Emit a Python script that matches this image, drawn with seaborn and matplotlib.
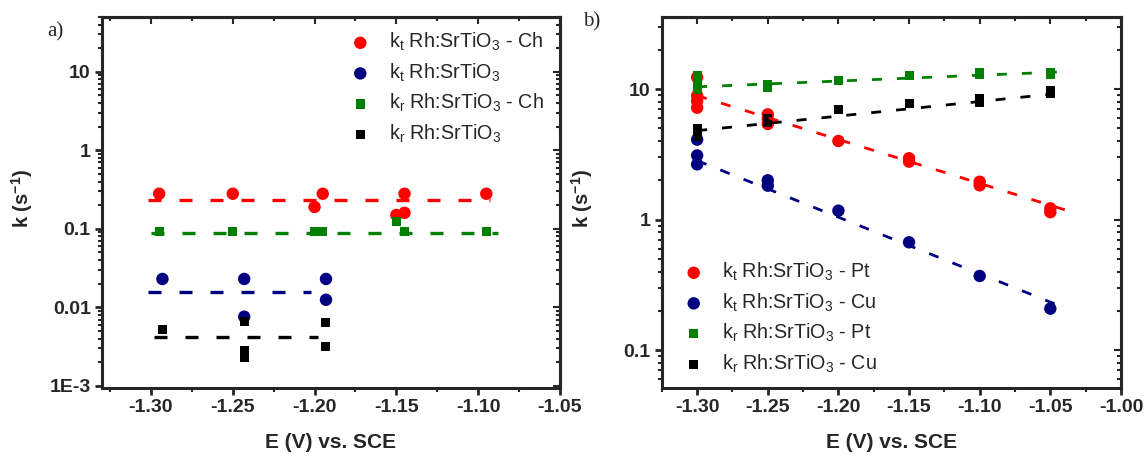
import numpy as np
import pandas as pd
import matplotlib
matplotlib.use("Agg")
import matplotlib.pyplot as plt
import seaborn as sns
from matplotlib.ticker import MultipleLocator, FixedLocator, FixedFormatter, NullFormatter, LogLocator

# ---- panel a) data ----
a_kt_ch_E = [-1.295, -1.25, -1.195, -1.20, -1.15, -1.145, -1.145, -1.095]
a_kt_ch_k = [0.28, 0.28, 0.28, 0.19, 0.15, 0.16, 0.28, 0.28]
a_kt_E = [-1.293, -1.243, -1.243, -1.193, -1.193]
a_kt_k = [0.023, 0.023, 0.0076, 0.023, 0.0125]
a_kr_ch_E = [-1.295, -1.25, -1.20, -1.195, -1.15, -1.145, -1.095]
a_kr_ch_k = [0.092, 0.092, 0.092, 0.092, 0.125, 0.092, 0.092]
a_kr_E = [-1.293, -1.243, -1.243, -1.243, -1.193, -1.193]
a_kr_k = [0.0052, 0.0066, 0.0028, 0.0023, 0.0064, 0.0032]

# fitted (horizontal) lines of panel a), same order as the series: start E, end E, level
a_fit_E0 = [-1.302, -1.302, -1.300, -1.298]
a_fit_E1 = [-1.093, -1.202, -1.088, -1.198]
a_fit_k = [0.23, 0.0155, 0.088, 0.0042]

# ---- panel b) data ----
b_kt_pt_E = [-1.30, -1.30, -1.30, -1.30, -1.25, -1.25, -1.25, -1.20, -1.15, -1.15, -1.10, -1.10, -1.05, -1.05]
b_kt_pt_k = [12.3, 8.9, 8.1, 7.2, 6.4, 5.9, 5.4, 4.0, 2.95, 2.78, 1.95, 1.83, 1.22, 1.14]
b_kt_cu_E = [-1.30, -1.30, -1.30, -1.25, -1.25, -1.20, -1.15, -1.10, -1.05]
b_kt_cu_k = [4.1, 3.1, 2.65, 2.0, 1.82, 1.17, 0.67, 0.37, 0.208]
b_kr_pt_E = [-1.30, -1.30, -1.30, -1.25, -1.25, -1.20, -1.15, -1.10, -1.10, -1.05, -1.05]
b_kr_pt_k = [12.6, 11.0, 10.0, 10.9, 10.3, 11.7, 12.6, 13.4, 13.0, 13.5, 12.9]
b_kr_cu_E = [-1.30, -1.30, -1.25, -1.25, -1.20, -1.15, -1.10, -1.10, -1.05, -1.05]
b_kr_cu_k = [5.0, 4.3, 5.9, 5.5, 7.0, 7.7, 8.4, 7.9, 9.7, 9.2]

# fitted lines of panel b): (E0, k0) -> (E1, k1)
b_fit_E0 = [-1.30, -1.30, -1.30, -1.30]
b_fit_k0 = [8.9, 2.83, 10.4, 4.8]
b_fit_E1 = [-1.032, -1.044, -1.038, -1.047]
b_fit_k1 = [1.12, 0.22, 13.6, 9.2]

colors = ["#FF0000", "#000080", "#008000", "#000000"]
markers = ["o", "o", "s", "s"]
sizes = [80, 80, 42, 42]

labels_a = [r"k$_\mathrm{t}$ Rh:SrTiO$_\mathrm{3}$ - Ch", r"k$_\mathrm{t}$ Rh:SrTiO$_\mathrm{3}$",
            r"k$_\mathrm{r}$ Rh:SrTiO$_\mathrm{3}$ - Ch", r"k$_\mathrm{r}$ Rh:SrTiO$_\mathrm{3}$"]
labels_b = [r"k$_\mathrm{t}$ Rh:SrTiO$_\mathrm{3}$ - Pt", r"k$_\mathrm{t}$ Rh:SrTiO$_\mathrm{3}$ - Cu",
            r"k$_\mathrm{r}$ Rh:SrTiO$_\mathrm{3}$ - Pt", r"k$_\mathrm{r}$ Rh:SrTiO$_\mathrm{3}$ - Cu"]

sns.set_style("ticks")
plt.rcParams["font.family"] = ["Liberation Sans", "DejaVu Sans"]
plt.rcParams["mathtext.fontset"] = "custom"
plt.rcParams["mathtext.rm"] = "Liberation Sans"
plt.rcParams["mathtext.it"] = "Liberation Sans:italic"
plt.rcParams["mathtext.bf"] = "Liberation Sans:bold"

fig = plt.figure(figsize=(11.45, 4.57), dpi=100)
ax_a = fig.add_axes([0.089, 0.151, 0.400, 0.812])
ax_b = fig.add_axes([0.578, 0.151, 0.401, 0.812])


def style_axes(ax, xlim, ylim, yticks, yticklabels, xticks):
    ax.set_yscale("log")
    ax.set_xlim(*xlim)
    ax.set_ylim(*ylim)
    ax.xaxis.set_major_locator(FixedLocator(xticks))
    ax.xaxis.set_minor_locator(MultipleLocator(0.025))
    ax.set_xticklabels([f"{t:.2f}" for t in xticks])
    ax.yaxis.set_major_locator(FixedLocator(yticks))
    ax.yaxis.set_major_formatter(FixedFormatter(yticklabels))
    ax.yaxis.set_minor_locator(LogLocator(base=10, subs=np.arange(2, 10), numticks=20))
    ax.yaxis.set_minor_formatter(NullFormatter())
    for sp in ax.spines.values():
        sp.set_linewidth(2.2)
        sp.set_visible(True)
    ax.tick_params(which="major", direction="out", length=5, width=2.0, labelsize=14, pad=3)
    ax.tick_params(which="minor", direction="out", length=3, width=1.5)
    for lab in ax.get_xticklabels() + ax.get_yticklabels():
        lab.set_fontweight("bold")
    # mirrored ticks, pointing inward
    top = ax.secondary_xaxis("top")
    top.xaxis.set_major_locator(FixedLocator(xticks))
    top.xaxis.set_minor_locator(MultipleLocator(0.025))
    top.tick_params(which="both", direction="in", labeltop=False, width=1.5)
    top.tick_params(which="major", length=5)
    top.tick_params(which="minor", length=3)
    top.spines["top"].set_linewidth(2.2)
    right = ax.secondary_yaxis("right")
    right.yaxis.set_major_locator(FixedLocator(yticks))
    right.yaxis.set_minor_locator(LogLocator(base=10, subs=np.arange(2, 10), numticks=20))
    right.tick_params(which="both", direction="in", labelright=False, width=1.5)
    right.tick_params(which="major", length=5)
    right.tick_params(which="minor", length=3)
    right.yaxis.set_major_formatter(NullFormatter())
    right.yaxis.set_minor_formatter(NullFormatter())
    right.spines["right"].set_linewidth(2.2)
    ax.set_xlabel("E (V) vs. SCE", fontsize=15, fontweight="bold", labelpad=12)
    ax.set_ylabel(r"$\mathbf{k\ (s^{-1})}$", fontsize=14.5)
    ax.yaxis.set_label_coords(-0.145, 0.51)


# panel a)
series_a = [(a_kt_ch_E, a_kt_ch_k), (a_kt_E, a_kt_k), (a_kr_ch_E, a_kr_ch_k), (a_kr_E, a_kr_k)]
for (E, k), c, m, s, lab in zip(series_a, colors, markers, sizes, labels_a):
    sns.scatterplot(x=E, y=k, ax=ax_a, color=c, marker=m, s=s, edgecolor="none", label=lab, zorder=3)
for e0, e1, kv, c in zip(a_fit_E0, a_fit_E1, a_fit_k, colors):
    sns.lineplot(x=[e0, e1], y=[kv, kv], ax=ax_a, color=c, linewidth=2.4,
                 linestyle=(0, (3.9, 5.4)), legend=False, zorder=4)

# panel b)
series_b = [(b_kt_pt_E, b_kt_pt_k), (b_kt_cu_E, b_kt_cu_k), (b_kr_pt_E, b_kr_pt_k), (b_kr_cu_E, b_kr_cu_k)]
for (E, k), c, m, s, lab in zip(series_b, colors, markers, sizes, labels_b):
    sns.scatterplot(x=E, y=k, ax=ax_b, color=c, marker=m, s=s, edgecolor="none", label=lab, zorder=3)
for e0, e1, k0, k1, c in zip(b_fit_E0, b_fit_E1, b_fit_k0, b_fit_k1, colors):
    sns.lineplot(x=[e0, e1], y=[k0, k1], ax=ax_b, color=c, linewidth=2.0,
                 linestyle=(0, (3.6, 5.4)), legend=False, zorder=4)

style_axes(ax_a, (-1.33, -1.05), (0.00094, 50), [10, 1, 0.1, 0.01, 0.001],
           ["10", "1", "0.1", "0.01", "1E-3"], [-1.30, -1.25, -1.20, -1.15, -1.10, -1.05])
style_axes(ax_b, (-1.325, -1.00), (0.0513, 35.7), [10, 1, 0.1],
           ["10", "1", "0.1"], [-1.30, -1.25, -1.20, -1.15, -1.10, -1.05, -1.00])

ax_a.legend(loc="upper right", bbox_to_anchor=(0.965, 0.962), frameon=False, fontsize=14.2,
            handlelength=1.0, handletextpad=0.95, labelspacing=0.42, borderaxespad=0, borderpad=0)
ax_b.legend(loc="lower left", bbox_to_anchor=(0.048, 0.035), frameon=False, fontsize=14.2,
            handlelength=1.0, handletextpad=0.95, labelspacing=0.42, borderaxespad=0, borderpad=0)

fig.text(47 / 1145, 1 - 32 / 457, "a)", family="Liberation Serif", fontsize=15, va="center")
fig.text(583 / 1145, 1 - 22 / 457, "b)", family="Liberation Serif", fontsize=15, va="center")

fig.savefig("out.png", dpi=100)
